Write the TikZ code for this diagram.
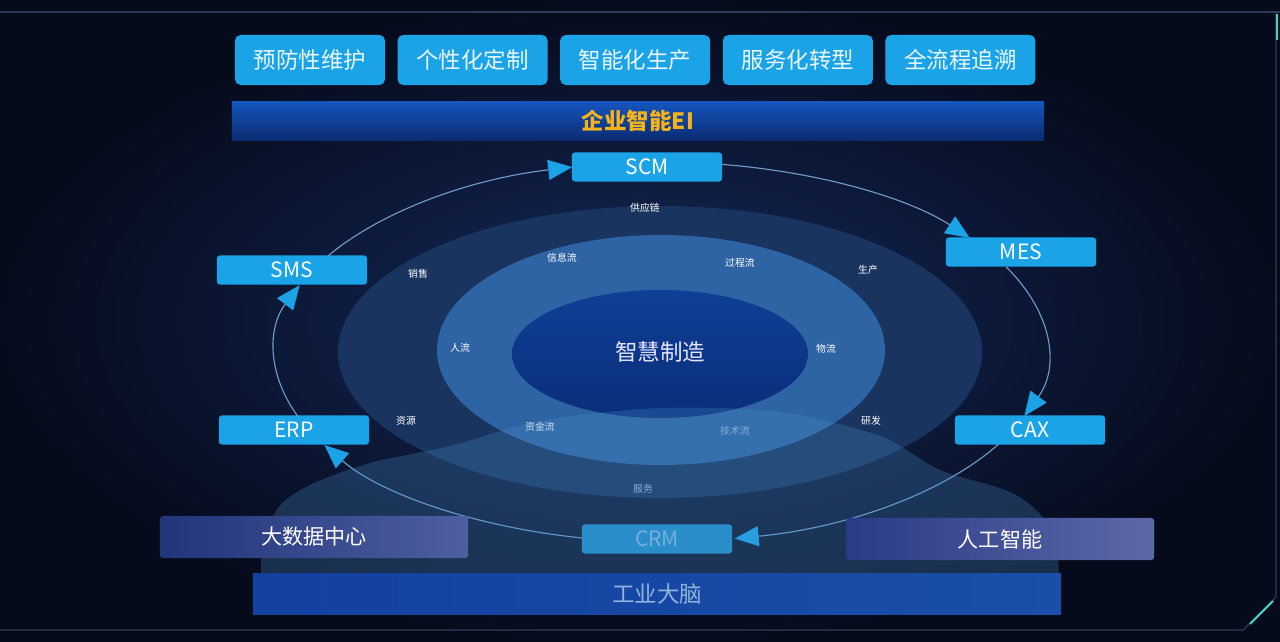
\documentclass[tikz,border=0pt]{standalone}
\usepackage{fontspec}
\newfontfamily\cjk{Noto Sans CJK SC}
\usepackage{tikz}
\usetikzlibrary{positioning,arrows.meta,calc}
\definecolor{bgin}{HTML}{14295A}
\definecolor{bgout}{HTML}{060B1C}
\definecolor{cyanbox}{HTML}{1BA3E8}
\definecolor{dimring}{HTML}{18345F}
\definecolor{midring}{HTML}{2F64A4}
\definecolor{corein}{HTML}{0F3F96}
\definecolor{corebot}{HTML}{0A2E7A}
\definecolor{goldtxt}{HTML}{F4B21C}
\definecolor{orbitln}{HTML}{6E9CCB}
\definecolor{cloudc}{HTML}{4A8EC8}
\definecolor{padl}{HTML}{22347A}
\definecolor{padr}{HTML}{4E5EA0}
\definecolor{ail}{HTML}{2A3A86}
\definecolor{air}{HTML}{5C68A8}
\definecolor{eitop}{HTML}{1555BD}
\definecolor{eibot}{HTML}{0B2C72}
\definecolor{brainl}{HTML}{1440A0}
\definecolor{brainr}{HTML}{1A4EA8}
\definecolor{braintxt}{HTML}{90B4DD}
\definecolor{crmfill}{HTML}{1E8FCB}
\definecolor{crmtxt}{HTML}{86BCE6}
\definecolor{fadetxt}{HTML}{9DBBDD}
\definecolor{framec}{HTML}{2E3C55}
\definecolor{accent}{HTML}{3ED6C8}

\begin{document}
\begin{tikzpicture}[x=0.025cm,y=-0.025cm]
\tikzstyle{every node}=[font=\cjk];
\tikzstyle{goal}=[fill=cyanbox,rounded corners=4pt,minimum width=3.75cm,minimum height=1.25cm,inner sep=0pt,text=white!92!cyan,font=\cjk\fontsize{16}{18}\selectfont];
\tikzstyle{sys}=[fill=cyanbox,rounded corners=2pt,minimum width=3.75cm,minimum height=0.725cm,inner sep=0pt,text=white,font=\cjk\fontsize{15}{17}\selectfont];
\tikzstyle{pad}=[left color=padl,right color=padr,rounded corners=2pt,minimum width=7.7cm,minimum height=1.05cm,inner sep=0pt,text=white,font=\cjk\fontsize{15}{17}\selectfont];
\tikzstyle{flowlbl}=[text=white,font=\cjk\fontsize{7}{8}\selectfont,inner sep=1pt];
\tikzstyle{orbit}=[draw=orbitln,line width=0.8pt,-{Triangle[length=0.6cm,width=0.5cm,color=cyanbox]}];
\useasboundingbox (0,0) rectangle (1280,642);
\shade[inner color=bgin,outer color=bgout] (0,0) rectangle (1280,642);
% frame
\draw[framec,line width=0.8pt] (0,12) -- (1280,12);
\draw[framec,line width=0.8pt] (0,630) -- (1243,630) -- (1276,597) -- (1276,12);
\draw[accent,line width=1.4pt] (1250,624) -- (1273,601);
\draw[accent,line width=1.4pt] (1277,14) -- (1277,40);
% top row
\node[goal] (top1) at (310,60) {预防性维护};
\node[goal] (top2) [right=0.3cm of top1] {个性化定制};
\node[goal] (top3) [right=0.3cm of top2] {智能化生产};
\node[goal] (top4) [right=0.3cm of top3] {服务化转型};
\node[goal] (top5) [right=0.3cm of top4] {全流程追溯};
\node[top color=eitop,bottom color=eibot,minimum width=20.3cm,minimum height=0.95cm,inner sep=0pt,
  text=goldtxt,font=\cjk\bfseries\fontsize{16}{18}\selectfont] (ei) at (638,121) {企业智能EI};
% rings
\fill[dimring] (660,352) ellipse [x radius=322, y radius=146];
\fill[midring] (661,350) ellipse [x radius=224, y radius=115];
\shade[top color=corein,bottom color=corebot] (660,354) ellipse [x radius=148, y radius=64];
\node[text=white!90!blue,font=\cjk\fontsize{16}{18}\selectfont] (core) at (660,352) {智慧制造};
\foreach \t/\x/\y [count=\i] in {供应链/645/208, 销售/418/274, 信息流/562/258, 过程流/740/263,
  生产/868/270, 人流/460/348, 物流/826/349, 资源/406/421, 资金流/540/427, 研发/871/421}
  \node[flowlbl] (flow\i) at (\x,\y) {\t};
\node[flowlbl,text=fadetxt] (tech) at (735,431) {技术流};
\node[flowlbl,text=fadetxt] (serv) at (643,489) {服务};
% systems on the orbit
\node[sys] (scm) at (647,167) {SCM};
\node[sys] (mes) at (1021,252) {MES};
\node[sys] (cax) at (1030,430) {CAX};
\node[sys,fill=crmfill,text=crmtxt] (crm) at (657,539) {CRM};
\node[sys] (erp) at (294,430) {ERP};
\node[sys] (sms) at (292,270) {SMS};
\coordinate (ctr) at (661,352);
\foreach \a/\b/\n in {29/79/caxout, 101.8/150.7/crmout, 160.3/200.6/erpout,
  210.3/256.7/smsout, 279.1/323.1/scmout, 333.4/379.7/mesout} {
  \coordinate (\n) at ($(ctr)+(\a:386 and 190)$);
  \draw[orbit] (\n) arc[start angle=\a, end angle=\b, x radius=386, y radius=190];
}
% cloud
\fill[cloudc,opacity=0.28] plot[smooth,tension=0.5] coordinates {(262,606) (262,550) (278,508)
  (310,485) (370,463) (450,446) (540,421) (660,408) (780,412) (880,436) (940,470) (1010,492)
  (1045,520) (1058,560) (1058,606)} -- cycle;
% base
\node[pad] (bigdata) at (314,537) {大数据中心};
\node[pad,left color=ail,right color=air] (ai) at (1000,539) {人工智能};
\node[left color=brainl,right color=brainr,minimum width=20.2cm,minimum height=1.025cm,inner sep=0pt,
  text=braintxt,font=\cjk\fontsize{16}{18}\selectfont] (brain) at (657,594) {工业大脑};
\end{tikzpicture}
\end{document}
